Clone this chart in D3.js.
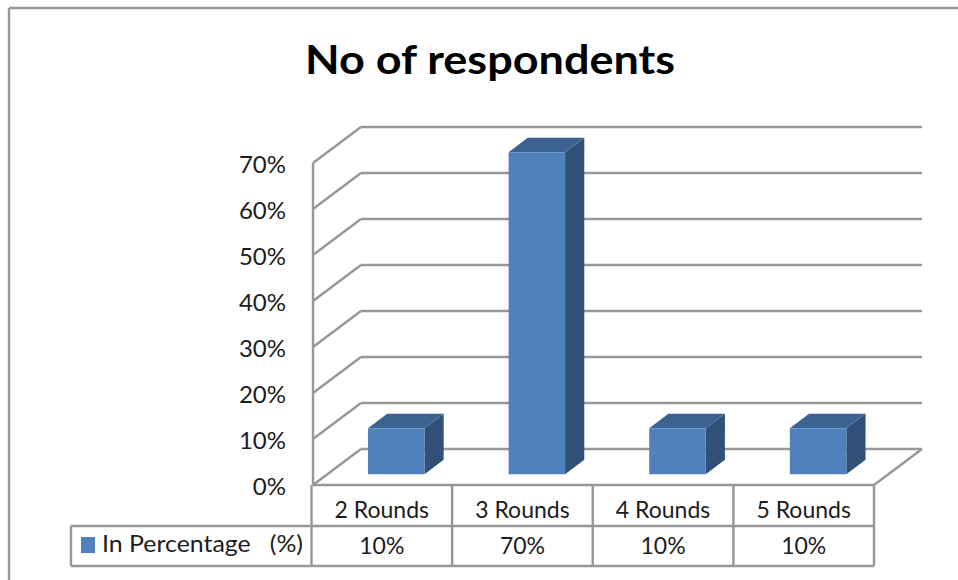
<!DOCTYPE html>
<html>
<head>
<meta charset="utf-8">
<script src="https://cdnjs.cloudflare.com/ajax/libs/d3/7.8.5/d3.min.js"></script>
<style>
html,body{margin:0;padding:0;background:#fff}
svg{display:block}
text{font-family:Lato,"Open Sans",sans-serif;fill:#1c1c1c}
</style>
</head>
<body>
<svg id="chart" width="958" height="580"></svg>
<script>
// Chart data
const chartTitle = "No of respondents";
const categories = ["2 Rounds", "3 Rounds", "4 Rounds", "5 Rounds"];
const seriesName = "In Percentage   (%)";
const values = [10, 70, 10, 10];
const yTicks = [0, 10, 20, 30, 40, 50, 60, 70];

const svg = d3.select("#chart");
const LINE = "#979797";

// Plot box and the oblique depth offset of the 3D floor
const plot = {left: 313, right: 874, bottom: 485, top: 163};
const depth = {dx: 48, dy: -36};

const x = d3.scaleBand().domain(categories).range([plot.left - 1.5, plot.right]);
const y = d3.scaleLinear().domain([0, 70]).range([plot.bottom, plot.top]);
const barWidth = 56.5;

// Projects a plot position with a depth fraction (0 front, 1 back wall)
const project = (px, value, d) => [px + depth.dx * d, y(value) + depth.dy * d];
const poly = pts => pts.map(p => p.join(",")).join(" ");
const lineTo = (a, b, g, w = 2.4) => g.append("line")
  .attr("x1", a[0]).attr("y1", a[1]).attr("x2", b[0]).attr("y2", b[1])
  .attr("stroke", LINE).attr("stroke-width", w);

// Outer frame
const frame = svg.append("g");
lineTo([9, 8], [958, 8], frame);
lineTo([9, 8], [9, 580], frame);

// Title
svg.append("text").attr("x", 305).attr("y", 74)
  .attr("textLength", 370).attr("lengthAdjust", "spacingAndGlyphs")
  .style("font-size", "41px").style("font-weight", 700).style("fill", "#000").text(chartTitle);

// Gridlines on the side and back walls
const grid = svg.append("g");
yTicks.forEach(t => {
  lineTo(project(plot.left, t, 0), project(plot.left, t, 1), grid);
  lineTo(project(plot.left, t, 1), project(plot.right, t, 1), grid);
});
lineTo(project(plot.left, 0, 0), project(plot.left, 70, 0), grid);
lineTo(project(plot.right, 0, 0), project(plot.right, 0, 1), grid);

// Value axis labels
const yAxis = d3.axisLeft(y).tickValues(yTicks).tickSize(0).tickPadding(27).tickFormat(d => d + "%");
const axisG = svg.append("g").attr("transform", `translate(${plot.left},0)`).call(yAxis);
axisG.select(".domain").remove();
axisG.selectAll("text").attr("dy", "0.4em").style("font-size", "24px").style("font-family", "Lato,sans-serif").style("fill", "#1c1c1c");

// 3D columns: side and top faces first, then the front face
const bars = svg.append("g").selectAll("g").data(categories.map((c, i) => ({c, v: values[i]}))).join("g");
const barLeft = d => x(d.c) + (x.bandwidth() - barWidth) / 2;
const near = 0.3, far = 0.7;
bars.append("polygon").attr("fill", "#315078").attr("points", d => {
  const r = barLeft(d) + barWidth;
  return poly([project(r, d.v, near), project(r, d.v, far), project(r, 0, far), project(r, 0, near)]);
});
bars.append("polygon").attr("fill", "#3c6292").attr("points", d => {
  const l = barLeft(d), r = l + barWidth;
  return poly([project(l, d.v, near), project(l, d.v, far), project(r, d.v, far), project(r, d.v, near)]);
});
bars.append("polygon").attr("fill", "#4f81bd").attr("points", d => {
  const l = barLeft(d), r = l + barWidth;
  return poly([project(l, d.v, near), project(r, d.v, near), project(r, 0, near), project(l, 0, near)]);
});

// Data table below the plot
const table = {row1: 526, row2: 566, legendLeft: 71};
const tableG = svg.append("g");
lineTo([plot.left, plot.bottom], [plot.right, plot.bottom], tableG);
lineTo([table.legendLeft, table.row1], [plot.right, table.row1], tableG);
lineTo([table.legendLeft, table.row2], [plot.right, table.row2], tableG);
lineTo([table.legendLeft, table.row1], [table.legendLeft, table.row2], tableG);
lineTo([plot.left - 1.5, plot.bottom], [plot.left - 1.5, table.row2], tableG);
categories.forEach(c => {
  const edge = x(c) + x.bandwidth();
  lineTo([edge, plot.bottom - 1], [edge, table.row2], tableG);
});

const cellStyle = s => s.attr("text-anchor", "middle").style("font-size", "23px");
svg.append("g").selectAll("text").data(categories).join("text")
  .attr("x", d => x(d) + x.bandwidth() / 2).attr("y", 518).call(cellStyle).text(d => d);
svg.append("g").selectAll("text").data(values).join("text")
  .attr("x", (d, i) => x(categories[i]) + x.bandwidth() / 2).attr("y", 554).call(cellStyle).text(d => d + "%");

// Legend key and series name in the table's first column
svg.append("rect").attr("x", 81).attr("y", 537).attr("width", 14).attr("height", 16).attr("fill", "#4f81bd");
svg.append("text").attr("x", 102).attr("y", 552)
  .attr("textLength", 201).attr("lengthAdjust", "spacingAndGlyphs")
  .style("font-size", "23px").style("white-space", "pre").text(seriesName);
</script>
</body>
</html>
